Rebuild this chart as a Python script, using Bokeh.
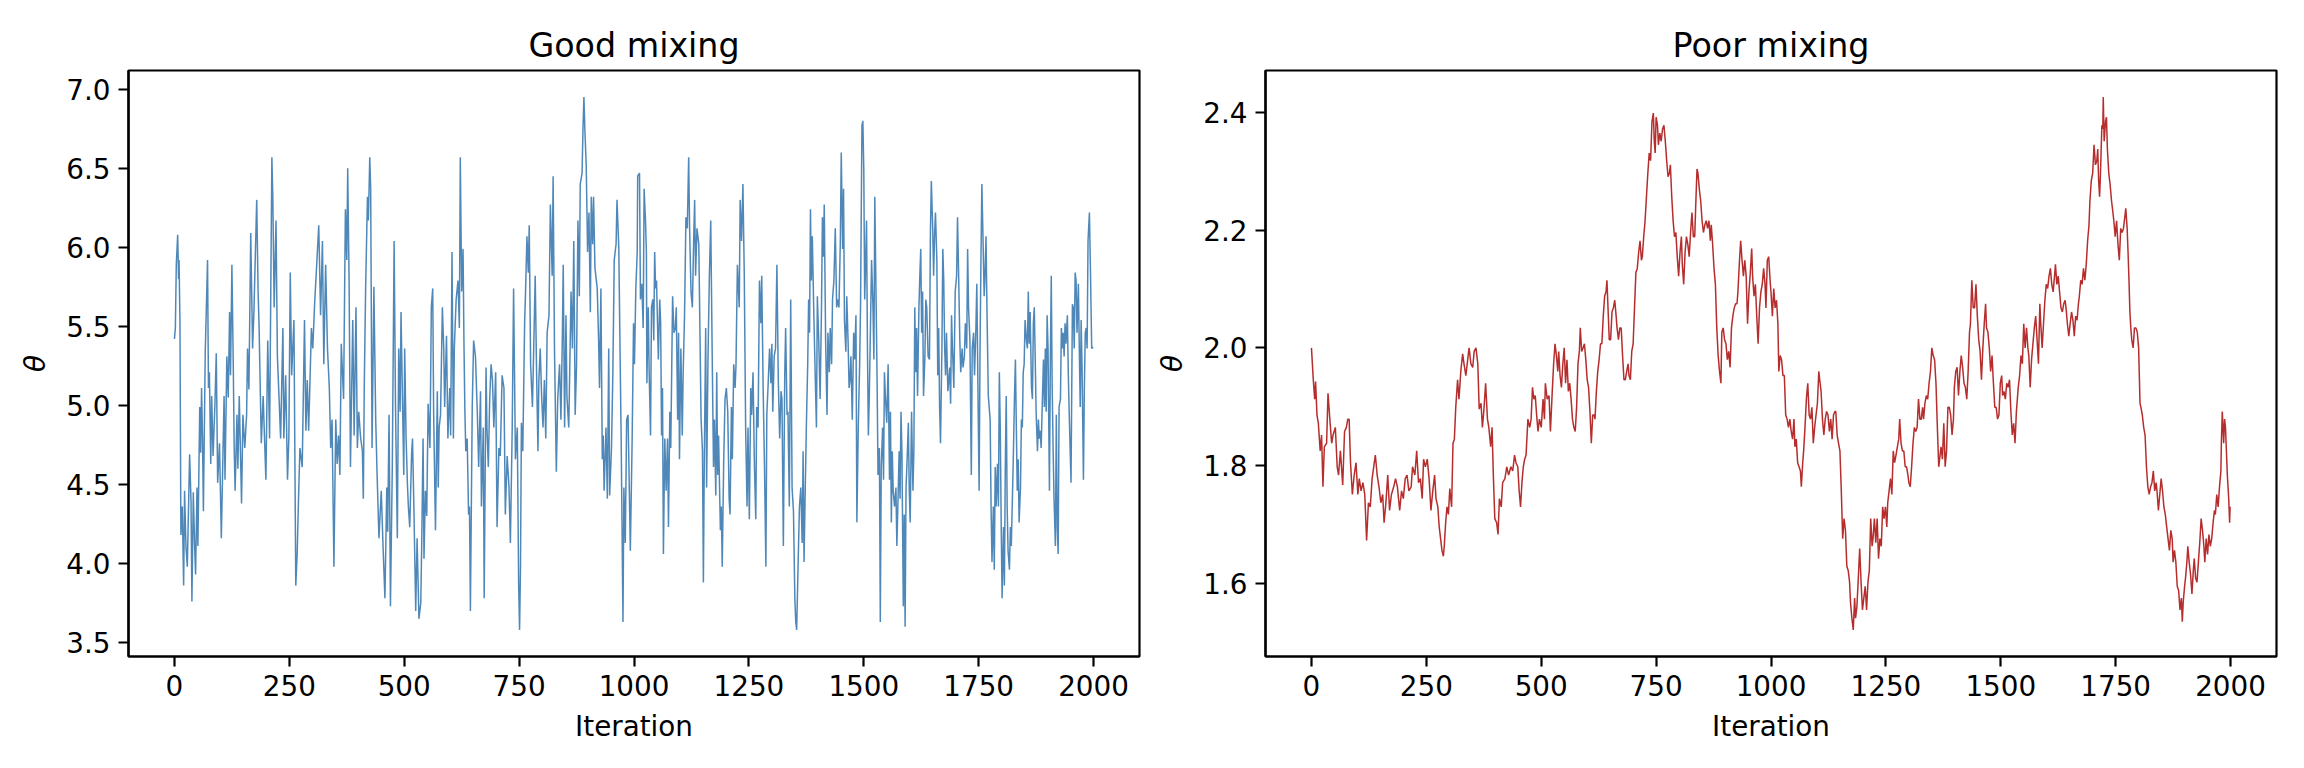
from bokeh.plotting import figure
from bokeh.layouts import row
from bokeh.models import Range1d, FixedTicker, PrintfTickFormatter
from bokeh.embed import file_html
from bokeh.resources import INLINE

# ---------------- data ----------------
titles = ["Good mixing", "Poor mixing"]
x_ticks = [0, 250, 500, 750, 1000, 1250, 1500, 1750, 2000]
good_y_ticks = [3.5, 4.0, 4.5, 5.0, 5.5, 6.0, 6.5, 7.0]
poor_y_ticks = [1.6, 1.8, 2.0, 2.2, 2.4]

# (iteration, theta) samples of the well-mixing chain
good_trace = [
    (0, 5.42), (2, 5.49), (4, 5.89), (7, 6.08), (9, 5.80), (10, 5.92), (12, 5.52), (14, 4.18), (17, 4.36),
    (20, 3.86), (22, 4.46), (25, 4.11), (28, 3.98), (33, 4.69), (36, 4.40), (38, 3.76), (41, 4.45), (44, 4.10),
    (46, 3.93), (49, 4.48), (51, 4.11), (55, 4.99), (57, 4.70), (59, 5.11), (61, 4.80), (63, 4.33), (67, 5.34),
    (72, 5.92), (74, 5.11), (76, 5.21), (79, 4.63), (81, 5.06), (84, 4.68), (88, 5.00), (91, 5.33), (94, 4.51),
    (98, 4.76), (102, 4.16), (108, 5.06), (110, 4.53), (114, 5.31), (117, 5.05), (120, 5.59), (122, 5.19),
    (125, 5.89), (128, 5.25), (130, 4.73), (132, 4.46), (136, 4.94), (138, 4.60), (141, 5.06), (146, 4.38),
    (149, 4.94), (153, 4.73), (157, 4.94), (159, 5.36), (162, 5.10), (166, 6.09), (170, 5.36), (173, 5.60),
    (179, 6.30), (182, 5.72), (184, 5.52), (189, 4.76), (193, 5.06), (199, 4.53), (203, 5.41), (207, 4.79),
    (212, 6.57), (214, 6.32), (217, 5.62), (221, 6.17), (224, 5.31), (228, 5.02), (231, 4.79), (236, 5.49),
    (238, 4.79), (242, 5.19), (246, 4.53), (249, 4.80), (252, 5.84), (255, 5.19), (260, 5.54), (264, 3.86),
    (267, 4.06), (270, 4.41), (273, 4.73), (278, 4.61), (283, 5.54), (286, 4.84), (289, 5.16), (292, 4.84),
    (298, 5.49), (301, 5.36), (305, 5.64), (314, 6.14), (318, 5.57), (322, 6.04), (325, 5.26), (329, 5.89),
    (333, 5.36), (337, 5.11), (340, 4.73), (343, 4.91), (347, 3.98), (351, 4.91), (354, 4.63), (357, 4.81),
    (360, 4.56), (363, 5.39), (368, 5.04), (372, 6.24), (375, 5.92), (377, 6.50), (380, 5.80), (383, 4.61),
    (388, 5.54), (391, 4.81), (395, 5.62), (398, 4.73), (401, 4.96), (405, 4.80), (409, 4.71), (411, 4.41),
    (413, 5.11), (416, 5.74), (420, 6.32), (422, 6.17), (425, 6.57), (427, 6.37), (430, 4.73), (434, 5.75),
    (438, 4.90), (441, 4.56), (445, 4.16), (450, 4.46), (454, 4.10), (458, 3.78), (462, 4.48), (464, 4.20),
    (467, 4.94), (470, 3.73), (474, 4.60), (478, 6.04), (481, 5.00), (485, 4.16), (488, 5.36), (491, 4.96),
    (493, 5.59), (497, 4.90), (499, 4.56), (501, 5.36), (504, 4.80), (507, 4.50), (509, 4.36), (512, 4.23),
    (516, 4.69), (518, 4.79), (521, 4.36), (525, 3.70), (528, 4.16), (532, 3.65), (536, 3.75), (538, 4.11),
    (541, 4.79), (543, 4.03), (546, 4.46), (549, 4.30), (552, 5.01), (556, 4.73), (559, 5.62), (562, 5.74),
    (564, 4.96), (568, 4.21), (572, 5.09), (574, 4.48), (576, 4.86), (579, 4.94), (583, 5.62), (586, 5.36),
    (588, 4.99), (592, 5.44), (595, 4.79), (599, 5.11), (601, 4.81), (604, 5.97), (607, 4.79), (609, 5.36),
    (613, 5.67), (617, 5.79), (620, 5.49), (622, 6.57), (625, 5.72), (628, 5.99), (630, 5.39), (632, 4.96),
    (634, 4.71), (637, 4.79), (640, 4.31), (642, 4.36), (644, 3.70), (648, 4.99), (651, 5.41), (655, 5.31),
    (659, 4.96), (662, 4.61), (666, 5.09), (668, 4.36), (672, 4.86), (674, 3.78), (678, 5.24), (680, 4.86),
    (683, 4.61), (686, 5.04), (689, 5.26), (692, 5.16), (695, 4.86), (699, 5.21), (702, 4.23), (706, 4.73),
    (709, 4.68), (713, 5.19), (717, 5.11), (720, 4.31), (724, 4.68), (728, 4.48), (731, 4.13), (735, 4.86),
    (738, 5.74), (742, 4.66), (746, 4.86), (749, 3.86), (751, 3.58), (753, 3.98), (755, 4.89), (758, 4.71),
    (762, 5.52), (764, 5.72), (767, 6.07), (770, 5.84), (772, 6.14), (775, 5.26), (779, 4.99), (782, 5.39),
    (785, 5.82), (788, 5.21), (791, 4.71), (793, 5.16), (796, 5.36), (799, 5.06), (802, 4.86), (805, 5.16),
    (808, 4.79), (811, 5.46), (815, 5.57), (818, 6.27), (822, 5.82), (824, 6.45), (827, 5.36), (831, 4.58),
    (834, 5.04), (838, 5.26), (841, 4.91), (844, 5.41), (846, 5.89), (849, 4.86), (852, 5.57), (854, 5.06),
    (858, 4.86), (860, 5.19), (863, 5.72), (866, 5.36), (869, 6.04), (872, 4.94), (875, 5.26), (878, 6.17),
    (881, 5.69), (883, 6.40), (887, 6.47), (889, 6.75), (891, 6.95), (893, 6.75), (896, 6.52), (899, 5.97),
    (902, 6.22), (905, 5.59), (907, 6.32), (910, 6.02), (912, 6.32), (915, 5.87), (920, 5.74), (923, 5.41),
    (925, 5.11), (928, 5.74), (931, 4.66), (933, 4.81), (935, 4.46), (939, 4.86), (942, 4.41), (945, 5.36),
    (947, 4.43), (951, 4.73), (954, 5.21), (957, 5.92), (961, 6.02), (963, 6.30), (967, 5.99), (969, 5.49),
    (972, 4.81), (976, 3.63), (978, 4.48), (981, 4.13), (984, 4.91), (987, 4.94), (989, 4.61), (992, 4.08),
    (996, 4.79), (999, 5.52), (1001, 5.26), (1004, 5.74), (1007, 5.97), (1008, 6.45), (1012, 6.47),
    (1014, 5.67), (1017, 5.77), (1020, 5.49), (1022, 6.37), (1025, 6.17), (1027, 5.97), (1028, 5.14),
    (1031, 5.62), (1033, 5.21), (1036, 4.81), (1038, 5.62), (1041, 5.67), (1043, 5.41), (1045, 5.97),
    (1047, 5.74), (1049, 5.79), (1053, 5.29), (1056, 5.67), (1058, 5.52), (1060, 4.81), (1062, 5.11),
    (1064, 4.06), (1067, 4.79), (1070, 4.46), (1073, 4.79), (1075, 4.23), (1078, 4.96), (1080, 4.73),
    (1084, 5.69), (1087, 5.46), (1090, 5.49), (1092, 5.62), (1095, 4.91), (1097, 5.46), (1099, 4.66),
    (1102, 5.36), (1105, 4.81), (1107, 5.21), (1110, 5.57), (1113, 6.19), (1116, 6.12), (1119, 6.57),
    (1121, 6.12), (1124, 5.72), (1127, 5.62), (1130, 6.07), (1132, 6.30), (1134, 5.82), (1137, 6.12),
    (1141, 6.02), (1144, 5.36), (1146, 4.91), (1149, 4.71), (1151, 3.88), (1153, 4.66), (1156, 5.49),
    (1158, 4.48), (1161, 5.29), (1164, 5.82), (1167, 6.17), (1170, 5.36), (1173, 4.61), (1175, 4.91),
    (1178, 4.43), (1180, 5.21), (1182, 4.56), (1184, 4.81), (1188, 4.21), (1190, 4.36), (1192, 3.98),
    (1195, 4.61), (1198, 5.04), (1201, 5.11), (1204, 4.96), (1207, 4.41), (1209, 4.31), (1212, 4.99),
    (1214, 4.66), (1217, 5.26), (1220, 5.11), (1222, 5.26), (1225, 5.89), (1229, 5.62), (1231, 6.30),
    (1234, 6.04), (1237, 6.40), (1240, 5.82), (1243, 4.84), (1246, 4.36), (1248, 4.86), (1251, 4.28),
    (1254, 5.11), (1256, 4.94), (1259, 5.21), (1262, 4.63), (1265, 4.28), (1267, 4.99), (1270, 4.86),
    (1273, 5.79), (1276, 5.52), (1278, 5.82), (1281, 5.11), (1284, 4.61), (1287, 3.98), (1289, 4.94),
    (1292, 5.14), (1295, 5.36), (1298, 5.14), (1300, 5.39), (1302, 4.96), (1305, 5.31), (1308, 5.36),
    (1311, 5.89), (1314, 5.16), (1317, 4.79), (1320, 5.09), (1322, 5.04), (1325, 4.11), (1328, 5.19),
    (1330, 5.49), (1333, 4.94), (1335, 4.96), (1338, 4.36), (1341, 5.67), (1344, 4.48), (1347, 4.33),
    (1350, 3.78), (1352, 3.63), (1354, 3.58), (1357, 3.98), (1360, 4.36), (1363, 4.48), (1366, 4.13),
    (1368, 4.71), (1370, 4.01), (1372, 4.36), (1375, 4.86), (1378, 5.26), (1380, 5.67), (1382, 5.46),
    (1384, 6.24), (1386, 5.79), (1388, 6.07), (1391, 5.62), (1393, 5.36), (1395, 5.11), (1397, 4.86),
    (1399, 5.69), (1402, 5.41), (1405, 5.04), (1408, 5.62), (1410, 6.19), (1412, 5.94), (1414, 6.27),
    (1417, 5.41), (1420, 4.94), (1422, 5.46), (1425, 5.21), (1427, 5.49), (1430, 5.26), (1432, 5.67),
    (1435, 5.79), (1438, 6.12), (1441, 5.62), (1443, 5.67), (1446, 5.62), (1449, 6.04), (1451, 6.60),
    (1454, 5.99), (1456, 6.37), (1458, 5.54), (1461, 5.34), (1463, 5.69), (1466, 5.39), (1468, 5.11),
    (1470, 5.16), (1472, 5.31), (1475, 4.91), (1478, 5.46), (1480, 5.29), (1483, 5.57), (1485, 4.26),
    (1488, 4.86), (1491, 5.26), (1493, 5.64), (1496, 6.77), (1498, 6.80), (1500, 6.50), (1502, 5.67),
    (1504, 5.90), (1506, 6.17), (1508, 5.36), (1510, 4.81), (1512, 5.06), (1514, 5.39), (1517, 5.92),
    (1520, 5.62), (1522, 5.29), (1524, 6.32), (1527, 5.62), (1529, 5.16), (1531, 4.56), (1534, 4.73),
    (1536, 3.63), (1538, 4.61), (1541, 4.86), (1543, 4.53), (1545, 5.21), (1547, 5.06), (1550, 4.89),
    (1553, 5.26), (1556, 4.53), (1558, 4.96), (1560, 4.26), (1562, 4.71), (1564, 4.46), (1567, 4.36),
    (1570, 4.48), (1572, 4.11), (1575, 4.46), (1577, 4.71), (1579, 4.41), (1581, 4.96), (1583, 4.71),
    (1586, 3.73), (1588, 4.31), (1590, 3.60), (1592, 4.48), (1594, 4.63), (1597, 4.89), (1599, 4.46),
    (1601, 4.26), (1604, 4.96), (1607, 4.46), (1609, 4.71), (1611, 5.62), (1613, 5.21), (1615, 5.49),
    (1617, 5.06), (1620, 5.62), (1622, 5.82), (1624, 5.99), (1626, 5.46), (1628, 5.72), (1630, 5.06),
    (1633, 5.31), (1635, 5.67), (1637, 5.62), (1640, 5.31), (1643, 5.29), (1645, 6.09), (1647, 6.42),
    (1650, 6.12), (1652, 5.82), (1654, 6.07), (1656, 6.22), (1659, 5.92), (1661, 5.19), (1663, 5.49),
    (1665, 4.99), (1667, 4.76), (1670, 5.36), (1672, 5.99), (1674, 5.79), (1676, 5.36), (1678, 5.19),
    (1680, 5.46), (1683, 5.09), (1685, 5.16), (1687, 5.24), (1689, 5.01), (1691, 5.57), (1693, 5.36),
    (1696, 5.11), (1699, 5.72), (1702, 5.82), (1704, 6.19), (1706, 5.89), (1709, 5.41), (1711, 5.21),
    (1714, 5.36), (1716, 5.24), (1719, 5.31), (1721, 5.52), (1724, 5.36), (1726, 5.99), (1728, 5.62),
    (1731, 5.41), (1734, 4.56), (1736, 5.36), (1739, 5.46), (1741, 5.19), (1744, 5.49), (1746, 5.77),
    (1749, 4.96), (1751, 4.46), (1753, 5.36), (1755, 5.92), (1757, 6.40), (1759, 6.12), (1762, 5.69),
    (1764, 5.84), (1766, 6.07), (1768, 5.62), (1771, 5.06), (1775, 4.91), (1777, 4.36), (1779, 4.01),
    (1782, 4.36), (1784, 3.96), (1786, 4.61), (1788, 4.36), (1791, 4.63), (1793, 4.36), (1795, 5.21),
    (1797, 4.86), (1799, 4.26), (1801, 3.78), (1804, 4.23), (1806, 3.86), (1808, 4.61), (1810, 5.06),
    (1812, 4.36), (1814, 4.08), (1817, 3.96), (1819, 4.23), (1821, 4.11), (1823, 4.36), (1825, 4.61),
    (1828, 5.06), (1830, 5.29), (1832, 4.86), (1834, 4.46), (1836, 4.66), (1838, 4.26), (1841, 4.48),
    (1843, 4.91), (1845, 4.86), (1847, 5.21), (1849, 5.26), (1851, 5.54), (1854, 5.41), (1856, 5.36),
    (1858, 5.72), (1860, 5.39), (1862, 5.59), (1865, 5.11), (1867, 5.04), (1869, 5.52), (1871, 5.62),
    (1873, 5.31), (1875, 4.96), (1878, 4.71), (1880, 4.91), (1882, 4.79), (1884, 4.84), (1886, 4.73),
    (1888, 4.96), (1891, 5.29), (1893, 4.99), (1895, 5.36), (1897, 4.96), (1899, 5.57), (1901, 5.36),
    (1904, 4.46), (1906, 5.29), (1908, 5.82), (1910, 5.11), (1912, 4.73), (1914, 4.41), (1917, 4.11),
    (1919, 4.94), (1921, 4.23), (1923, 4.06), (1925, 4.99), (1928, 5.04), (1930, 5.49), (1932, 5.36),
    (1934, 5.46), (1936, 5.31), (1938, 5.52), (1940, 5.39), (1943, 5.57), (1945, 5.21), (1947, 4.96),
    (1949, 4.73), (1951, 4.51), (1954, 5.64), (1956, 5.62), (1958, 5.36), (1960, 5.84), (1962, 5.79),
    (1964, 5.46), (1967, 5.77), (1969, 5.36), (1971, 4.99), (1973, 5.54), (1975, 5.24), (1978, 4.53),
    (1980, 5.11), (1982, 5.46), (1984, 5.49), (1986, 5.36), (1988, 6.04), (1991, 6.22), (1993, 5.90),
    (1996, 5.36), (1999, 5.37),
]

# (iteration, theta) samples of the poorly mixing chain
poor_trace = [
    (0, 2.000), (4, 1.946), (7, 1.913), (9, 1.943), (12, 1.886), (15, 1.872), (19, 1.825), (22, 1.852),
    (25, 1.764), (28, 1.832), (33, 1.838), (36, 1.923), (40, 1.879), (44, 1.838), (47, 1.852), (52, 1.865),
    (56, 1.798), (59, 1.784), (63, 1.825), (68, 1.767), (72, 1.858), (76, 1.865), (79, 1.879), (82, 1.879),
    (85, 1.805), (89, 1.751), (93, 1.784), (97, 1.805), (101, 1.751), (104, 1.778), (108, 1.757), (112, 1.771),
    (116, 1.751), (120, 1.673), (124, 1.737), (128, 1.730), (132, 1.778), (136, 1.801), (139, 1.818),
    (143, 1.784), (147, 1.764), (151, 1.737), (155, 1.751), (158, 1.703), (162, 1.737), (166, 1.784),
    (170, 1.724), (174, 1.751), (179, 1.764), (183, 1.778), (187, 1.764), (192, 1.724), (196, 1.757),
    (200, 1.744), (204, 1.778), (208, 1.784), (212, 1.757), (217, 1.764), (220, 1.798), (225, 1.784),
    (229, 1.825), (233, 1.771), (237, 1.778), (241, 1.744), (244, 1.811), (248, 1.798), (252, 1.811),
    (256, 1.778), (260, 1.724), (264, 1.757), (268, 1.784), (271, 1.744), (275, 1.730), (278, 1.696),
    (281, 1.676), (284, 1.656), (287, 1.646), (289, 1.663), (292, 1.703), (295, 1.730), (298, 1.717),
    (301, 1.761), (305, 1.730), (308, 1.838), (311, 1.845), (314, 1.899), (318, 1.946), (321, 1.913),
    (325, 1.960), (329, 1.990), (332, 1.973), (336, 1.953), (340, 1.980), (343, 2.000), (347, 1.973),
    (351, 1.967), (354, 1.994), (358, 2.000), (362, 1.973), (365, 1.896), (369, 1.906), (372, 1.865),
    (375, 1.892), (379, 1.940), (383, 1.879), (386, 1.865), (390, 1.832), (393, 1.865), (396, 1.778),
    (399, 1.710), (403, 1.703), (406, 1.683), (409, 1.744), (413, 1.730), (416, 1.771), (421, 1.778),
    (425, 1.798), (429, 1.784), (434, 1.798), (438, 1.791), (442, 1.818), (445, 1.805), (449, 1.798),
    (452, 1.757), (455, 1.730), (458, 1.771), (461, 1.798), (464, 1.811), (467, 1.818), (471, 1.879),
    (475, 1.865), (478, 1.879), (481, 1.933), (484, 1.913), (487, 1.919), (490, 1.886), (493, 1.858),
    (496, 1.879), (500, 1.865), (504, 1.913), (507, 1.879), (509, 1.940), (513, 1.913), (517, 1.919),
    (520, 1.858), (524, 1.926), (527, 1.973), (530, 2.007), (533, 1.987), (536, 1.960), (538, 1.994),
    (541, 1.953), (544, 1.933), (547, 1.973), (550, 2.000), (553, 1.940), (556, 1.980), (559, 1.926),
    (562, 1.940), (565, 1.913), (568, 1.879), (571, 1.865), (574, 1.858), (577, 1.899), (580, 1.973),
    (583, 1.994), (585, 2.034), (588, 1.994), (591, 2.000), (594, 2.007), (597, 1.980), (600, 1.946),
    (603, 1.933), (606, 1.892), (609, 1.838), (612, 1.886), (615, 1.886), (617, 1.879), (620, 1.926),
    (623, 1.960), (626, 1.980), (629, 2.007), (632, 2.007), (635, 2.054), (638, 2.088), (641, 2.095),
    (643, 2.115), (645, 2.075), (648, 2.014), (651, 2.014), (654, 2.061), (657, 2.068), (660, 2.081),
    (663, 2.054), (665, 2.034), (668, 2.014), (671, 2.034), (674, 2.034), (677, 1.987), (680, 1.946),
    (683, 1.946), (686, 1.960), (689, 1.973), (691, 1.953), (694, 1.946), (697, 1.994), (700, 2.007),
    (703, 2.068), (706, 2.128), (709, 2.135), (712, 2.162), (715, 2.182), (718, 2.149), (720, 2.155),
    (723, 2.189), (726, 2.216), (729, 2.257), (732, 2.297), (735, 2.331), (738, 2.318), (741, 2.385),
    (744, 2.399), (746, 2.351), (748, 2.331), (750, 2.392), (753, 2.378), (755, 2.345), (758, 2.365),
    (761, 2.351), (764, 2.372), (767, 2.378), (770, 2.351), (773, 2.318), (776, 2.291), (779, 2.297),
    (781, 2.311), (784, 2.257), (787, 2.216), (790, 2.189), (793, 2.196), (796, 2.155), (799, 2.122),
    (802, 2.162), (805, 2.189), (807, 2.142), (810, 2.108), (813, 2.162), (816, 2.189), (819, 2.176),
    (822, 2.155), (825, 2.196), (828, 2.230), (831, 2.189), (834, 2.189), (836, 2.237), (839, 2.304),
    (841, 2.297), (844, 2.270), (847, 2.250), (850, 2.216), (853, 2.196), (856, 2.209), (859, 2.216),
    (862, 2.203), (865, 2.216), (868, 2.182), (870, 2.209), (873, 2.176), (876, 2.135), (879, 2.108),
    (882, 2.034), (885, 1.987), (888, 1.960), (891, 1.940), (893, 2.027), (896, 2.034), (899, 2.014),
    (902, 2.007), (905, 1.980), (908, 1.994), (911, 1.967), (914, 2.034), (917, 2.054), (920, 2.068),
    (923, 2.075), (926, 2.075), (928, 2.095), (931, 2.142), (934, 2.182), (937, 2.149), (940, 2.122),
    (943, 2.149), (946, 2.122), (949, 2.041), (952, 2.095), (955, 2.128), (958, 2.169), (960, 2.122),
    (963, 2.088), (966, 2.108), (969, 2.054), (972, 2.007), (975, 2.068), (978, 2.095), (981, 2.108),
    (984, 2.135), (987, 2.108), (989, 2.068), (992, 2.149), (995, 2.155), (998, 2.115), (1000, 2.095),
    (1003, 2.054), (1006, 2.101), (1009, 2.068), (1012, 2.081), (1015, 2.041), (1017, 1.960), (1020, 1.987),
    (1023, 1.980), (1026, 1.953), (1029, 1.953), (1032, 1.886), (1035, 1.879), (1038, 1.865), (1041, 1.879),
    (1044, 1.858), (1047, 1.845), (1050, 1.879), (1052, 1.832), (1055, 1.845), (1058, 1.805), (1061, 1.798),
    (1064, 1.791), (1066, 1.764), (1069, 1.805), (1071, 1.825), (1074, 1.865), (1077, 1.913), (1080, 1.940),
    (1083, 1.886), (1086, 1.879), (1089, 1.899), (1092, 1.838), (1095, 1.865), (1098, 1.886), (1101, 1.906),
    (1104, 1.960), (1106, 1.946), (1109, 1.926), (1112, 1.879), (1115, 1.852), (1118, 1.879), (1121, 1.892),
    (1124, 1.886), (1127, 1.858), (1130, 1.879), (1133, 1.845), (1136, 1.886), (1139, 1.892), (1141, 1.892),
    (1144, 1.852), (1147, 1.838), (1150, 1.825), (1153, 1.757), (1156, 1.676), (1159, 1.710), (1162, 1.690),
    (1165, 1.629), (1168, 1.622), (1171, 1.602), (1173, 1.568), (1176, 1.541), (1179, 1.521), (1182, 1.575),
    (1184, 1.541), (1187, 1.561), (1190, 1.609), (1193, 1.659), (1196, 1.602), (1199, 1.555), (1202, 1.575),
    (1205, 1.595), (1208, 1.555), (1211, 1.602), (1214, 1.622), (1217, 1.710), (1220, 1.663), (1222, 1.676),
    (1225, 1.710), (1228, 1.669), (1231, 1.710), (1234, 1.642), (1237, 1.676), (1240, 1.663), (1243, 1.730),
    (1246, 1.710), (1249, 1.730), (1252, 1.696), (1254, 1.737), (1257, 1.757), (1260, 1.778), (1263, 1.751),
    (1266, 1.825), (1269, 1.805), (1272, 1.818), (1275, 1.832), (1278, 1.845), (1280, 1.879), (1283, 1.838),
    (1286, 1.825), (1289, 1.825), (1292, 1.798), (1295, 1.798), (1298, 1.784), (1300, 1.771), (1303, 1.764),
    (1306, 1.798), (1309, 1.838), (1312, 1.865), (1315, 1.858), (1318, 1.865), (1321, 1.913), (1324, 1.879),
    (1327, 1.879), (1330, 1.899), (1332, 1.879), (1335, 1.906), (1338, 1.919), (1341, 1.913), (1344, 1.940),
    (1347, 1.960), (1350, 2.000), (1353, 1.987), (1356, 1.980), (1359, 1.940), (1362, 1.865), (1365, 1.798),
    (1368, 1.818), (1370, 1.832), (1373, 1.811), (1376, 1.872), (1379, 1.798), (1382, 1.825), (1385, 1.899),
    (1388, 1.899), (1391, 1.886), (1394, 1.852), (1397, 1.879), (1399, 1.933), (1402, 1.960), (1405, 1.967),
    (1408, 1.919), (1411, 1.960), (1414, 1.987), (1417, 1.967), (1420, 1.940), (1423, 1.933), (1426, 1.913),
    (1429, 1.960), (1432, 2.027), (1434, 2.041), (1437, 2.115), (1440, 2.068), (1443, 2.068), (1446, 2.108),
    (1449, 2.054), (1452, 2.014), (1455, 1.994), (1458, 1.946), (1461, 2.000), (1464, 2.041), (1467, 2.075),
    (1469, 2.034), (1472, 2.027), (1475, 2.000), (1478, 1.960), (1481, 1.987), (1484, 1.940), (1487, 1.899),
    (1490, 1.899), (1493, 1.879), (1496, 1.886), (1499, 1.940), (1502, 1.953), (1504, 1.919), (1507, 1.926),
    (1510, 1.913), (1513, 1.940), (1516, 1.933), (1519, 1.946), (1522, 1.892), (1525, 1.852), (1528, 1.872),
    (1531, 1.838), (1534, 1.892), (1538, 1.933), (1541, 1.953), (1544, 1.987), (1547, 1.973), (1550, 2.041),
    (1553, 2.000), (1556, 2.034), (1559, 2.000), (1561, 1.987), (1564, 1.933), (1567, 1.980), (1570, 2.007),
    (1573, 2.034), (1576, 2.054), (1579, 2.014), (1582, 1.973), (1585, 2.075), (1587, 2.041), (1590, 2.000),
    (1593, 2.041), (1596, 2.081), (1599, 2.108), (1602, 2.101), (1605, 2.122), (1608, 2.135), (1611, 2.108),
    (1614, 2.095), (1617, 2.122), (1619, 2.142), (1622, 2.108), (1625, 2.122), (1628, 2.095), (1631, 2.068),
    (1634, 2.061), (1637, 2.075), (1640, 2.081), (1642, 2.068), (1645, 2.041), (1648, 2.020), (1651, 2.041),
    (1654, 2.061), (1657, 2.047), (1660, 2.020), (1663, 2.054), (1666, 2.047), (1669, 2.075), (1671, 2.088),
    (1674, 2.115), (1677, 2.108), (1680, 2.135), (1683, 2.115), (1686, 2.142), (1689, 2.182), (1692, 2.209),
    (1694, 2.250), (1697, 2.284), (1700, 2.297), (1703, 2.345), (1706, 2.311), (1709, 2.318), (1711, 2.338),
    (1713, 2.284), (1715, 2.257), (1717, 2.297), (1720, 2.378), (1722, 2.372), (1723, 2.426), (1725, 2.351),
    (1728, 2.385), (1730, 2.392), (1732, 2.338), (1735, 2.297), (1738, 2.277), (1741, 2.250), (1743, 2.237),
    (1746, 2.216), (1749, 2.189), (1752, 2.216), (1755, 2.176), (1758, 2.149), (1761, 2.203), (1764, 2.196),
    (1767, 2.203), (1770, 2.223), (1772, 2.237), (1775, 2.203), (1777, 2.162), (1779, 2.115), (1781, 2.061),
    (1783, 2.034), (1785, 2.014), (1788, 2.000), (1791, 2.034), (1794, 2.034), (1797, 2.027), (1800, 2.000),
    (1803, 1.906), (1805, 1.899), (1808, 1.886), (1811, 1.865), (1814, 1.852), (1817, 1.798), (1820, 1.764),
    (1823, 1.751), (1826, 1.764), (1829, 1.771), (1832, 1.791), (1835, 1.757), (1838, 1.771), (1840, 1.757),
    (1843, 1.724), (1846, 1.751), (1849, 1.778), (1852, 1.757), (1855, 1.730), (1858, 1.717), (1861, 1.696),
    (1864, 1.676), (1867, 1.656), (1870, 1.690), (1873, 1.676), (1875, 1.636), (1878, 1.656), (1881, 1.636),
    (1884, 1.595), (1887, 1.588), (1890, 1.555), (1893, 1.575), (1895, 1.535), (1897, 1.568), (1900, 1.595),
    (1902, 1.609), (1905, 1.636), (1907, 1.663), (1910, 1.636), (1913, 1.615), (1916, 1.582), (1919, 1.622),
    (1921, 1.642), (1924, 1.609), (1927, 1.602), (1930, 1.636), (1933, 1.669), (1936, 1.710), (1939, 1.690),
    (1942, 1.663), (1944, 1.636), (1947, 1.676), (1950, 1.649), (1953, 1.683), (1956, 1.663), (1959, 1.676),
    (1962, 1.703), (1965, 1.724), (1967, 1.717), (1970, 1.751), (1973, 1.730), (1976, 1.764), (1979, 1.791),
    (1980, 1.838), (1982, 1.892), (1985, 1.838), (1987, 1.879), (1989, 1.865), (1991, 1.825), (1993, 1.784),
    (1996, 1.744), (1998, 1.703), (1999, 1.730),
]

good_iter = [it for it, _ in good_trace]
good_theta = [v for _, v in good_trace]
poor_iter = [it for it, _ in poor_trace]
poor_theta = [v for _, v in poor_trace]

# ---------------- styling ----------------
FONT = "DejaVu Sans"
TICK_PX = "27.8px"
TITLE_PX = "33.3px"
FRAME_W = 2.2
H = 752


def make_panel(title, xs, ys, yticks, color, width, border_left, border_right):
    lo, hi = min(ys), max(ys)
    pad = 0.05 * (hi - lo)
    p = figure(
        width=width, height=H,
        output_backend="svg", toolbar_location=None,
        x_range=Range1d(-100, 2100), y_range=Range1d(lo - pad, hi + pad),
        min_border_left=border_left, min_border_right=border_right,
        min_border_top=70, min_border_bottom=96,
        title=title,
    )
    p.line(xs, ys, line_color=color, line_width=1.5, line_alpha=0.95)

    p.title.text_font = FONT
    p.title.text_font_size = TITLE_PX
    p.title.text_font_style = "normal"
    p.title.text_color = "black"
    p.title.align = "center"
    p.title.standoff = 11

    p.xgrid.visible = False
    p.ygrid.visible = False
    p.outline_line_color = "black"
    p.outline_line_width = FRAME_W
    p.background_fill_color = "white"
    p.border_fill_color = "white"

    p.xaxis.ticker = FixedTicker(ticks=x_ticks)
    p.yaxis.ticker = FixedTicker(ticks=yticks)
    p.yaxis.formatter = PrintfTickFormatter(format="%.1f")
    p.xaxis.axis_label = "Iteration"
    p.yaxis.axis_label = "θ"
    p.yaxis.axis_label_text_font_style = "italic"
    p.xaxis.axis_label_text_font_style = "normal"

    for ax in (p.xaxis[0], p.yaxis[0]):
        ax.axis_line_color = "black"
        ax.axis_line_width = FRAME_W
        ax.major_tick_line_color = "black"
        ax.major_tick_line_width = FRAME_W
        ax.major_tick_in = 0
        ax.major_tick_out = 10
        ax.minor_tick_in = 0
        ax.minor_tick_out = 0
        ax.major_label_text_font = FONT
        ax.major_label_text_font_size = TICK_PX
        ax.major_label_text_color = "black"
        ax.major_label_standoff = 8
        ax.axis_label_text_font = FONT
        ax.axis_label_text_font_size = TICK_PX
        ax.axis_label_text_color = "black"
        ax.axis_label_standoff = 11
    return p


p_good = make_panel(titles[0], good_iter, good_theta, good_y_ticks, "#4682B4", 1149, 128, 10)
p_poor = make_panel(titles[1], poor_iter, poor_theta, poor_y_ticks, "#B22222", 1137, 116, 10)

layout = row(p_good, p_poor)
open("out.html", "w").write(file_html(layout, INLINE))
